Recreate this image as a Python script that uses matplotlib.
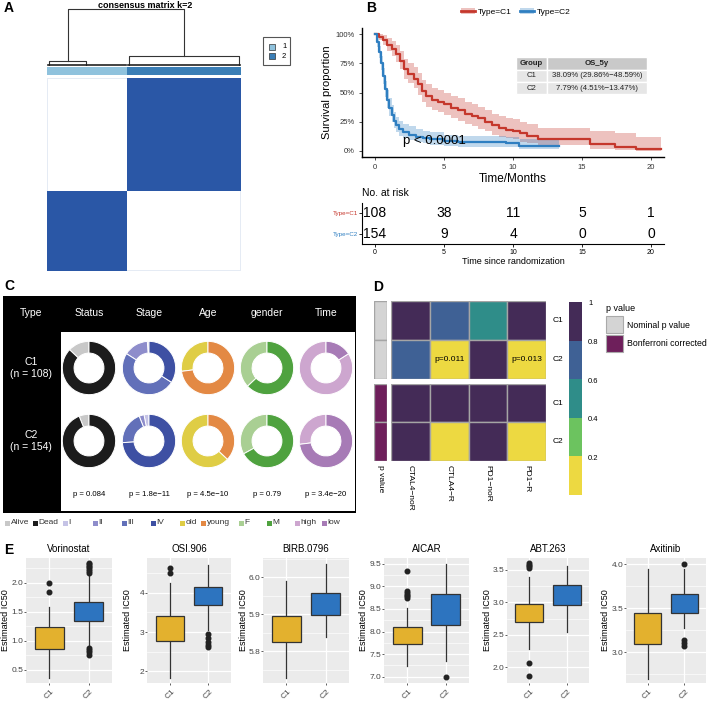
import numpy as np
import matplotlib.pyplot as plt
from matplotlib.patches import Rectangle, Patch
from matplotlib.lines import Line2D
from matplotlib.colors import LinearSegmentedColormap, ListedColormap, BoundaryNorm
from matplotlib.ticker import MultipleLocator

plt.rcParams['font.family'] = ['Liberation Sans', 'DejaVu Sans']

# ---------------- data ----------------
# A: consensus clustering
cluster_sizes = [108, 154]
mixed_consensus = 0.12
dend_heights = [0.95, 0.083, 0.167]          # root, left child, right child
dend_spans = [(3, 53), (111, 259)]            # sample index spans of the two children

# B: Kaplan-Meier (time in months)
c1_time = [0, 0.3, 0.6, 0.9, 1.2, 1.5, 1.8, 2.1, 2.4, 2.8, 3.1, 3.4, 3.7, 4.1, 4.6, 5.0,
           5.5, 6.0, 6.5, 7.0, 7.5, 8.0, 8.5, 9.0, 9.5, 10.0, 10.5, 11.0, 11.8, 15.6, 17.4, 18.9]
c1_surv = [1.0, .98, .95, .91, .87, .83, .77, .70, .66, .62, .57, .51, .47, .44, .42, .40,
           .37, .35, .32, .30, .28, .25, .22, .20, .18, .17, .15, .13, .105, .06, .037, .015]
c1_low = [1.0, .95, .91, .86, .81, .76, .70, .62, .58, .54, .48, .42, .38, .35, .33, .31,
          .28, .26, .23, .21, .19, .17, .14, .12, .11, .10, .08, .07, .05, .02, .008, .001]
c1_up = [1.0, 1.0, .99, .97, .94, .91, .86, .79, .75, .72, .67, .61, .57, .54, .52, .50,
         .47, .45, .42, .40, .38, .35, .32, .30, .28, .27, .25, .23, .20, .17, .15, .12]
c1_end = 20.7
c2_time = [0, 0.15, 0.3, 0.45, 0.6, 0.75, 0.9, 1.05, 1.2, 1.35, 1.5, 1.75, 2.0, 2.5, 3.0,
           3.5, 4.0, 5.0, 6.0, 9.5, 10.4]
c2_surv = [1.0, .93, .85, .75, .64, .53, .44, .37, .31, .26, .22, .19, .16, .14, .12,
           .11, .10, .085, .075, .065, .045]
c2_low = [1.0, .89, .80, .69, .57, .46, .37, .30, .25, .20, .16, .13, .11, .09, .075,
          .065, .055, .045, .038, .03, .015]
c2_up = [1.0, .97, .90, .81, .71, .60, .52, .45, .39, .33, .29, .26, .23, .21, .19,
         .17, .16, .14, .13, .12, .10]
c2_end = 13.3
risk_times = [0, 5, 10, 15, 20]
risk_c1 = [108, 38, 11, 5, 1]
risk_c2 = [154, 9, 4, 0, 0]
os_table = [['Group', 'OS_5y'],
            ['C1', '38.09% (29.86%\u221248.59%)'],
            ['C2', '7.79% (4.51%\u221213.47%)']]

# C: clinical donuts
donut_vars = ['Status', 'Stage', 'Age', 'gender', 'Time']
donut_cats = [['Alive', 'Dead'], ['I', 'II', 'III', 'IV'], ['old', 'young'], ['F', 'M'], ['high', 'low']]
donut_cols = [['#C8C8C8', '#1C1C1C'],
              ['#C5C3E6', '#8E8DCB', '#6270B9', '#3E50A3'],
              ['#DFCD45', '#E38944'],
              ['#A9CF93', '#4FA23F'],
              ['#CDA6CF', '#A77BB6']]
donut_c1 = [[0.13, 0.87], [0.01, 0.15, 0.50, 0.34], [0.27, 0.73], [0.37, 0.63], [0.84, 0.16]]
donut_c2 = [[0.06, 0.94], [0.03, 0.03, 0.20, 0.74], [0.63, 0.37], [0.33, 0.67], [0.27, 0.73]]
donut_p = ['p = 0.084', 'p = 1.8e\u221211', 'p = 4.5e\u221210', 'p = 0.79', 'p = 3.4e\u221220']

# D: immunotherapy p values
d_cols = ['CTAL4\u2212noR', 'CTLA4\u2212R', 'PD1\u2212noR', 'PD1\u2212R']
d_rows = ['C1', 'C2']
p_nominal = [[0.92, 0.72, 0.55, 0.90], [0.70, 0.011, 0.95, 0.013]]
p_bonf = [[1.0, 1.0, 1.0, 1.0], [1.0, 0.088, 1.0, 0.104]]

# E: drug sensitivity boxplots  [whislo, q1, med, q3, whishi]
drugs = ['Vorinostat', 'OSI.906', 'BIRB.0796', 'AICAR', 'ABT.263', 'Axitinib']
c1_box = [[0.35, 0.86, 1.06, 1.24, 1.58],
          [1.83, 2.78, 3.08, 3.40, 4.26],
          [5.728, 5.825, 5.861, 5.896, 5.989],
          [7.24, 7.73, 7.89, 8.11, 8.52],
          [2.28, 2.69, 2.80, 2.97, 3.39],
          [2.70, 3.09, 3.30, 3.44, 3.94]]
c1_out = [[1.84, 2.0], [4.51, 4.64], [], [8.74, 8.78, 8.82, 8.85, 8.89, 9.34],
          [1.86, 2.06, 3.53, 3.55, 3.57, 3.60], []]
c2_box = [[0.87, 1.34, 1.53, 1.67, 2.14],
          [3.06, 3.68, 3.94, 4.15, 4.72],
          [5.838, 5.897, 5.931, 5.958, 6.036],
          [7.34, 8.15, 8.47, 8.84, 9.49],
          [2.55, 2.96, 3.10, 3.27, 3.56],
          [3.27, 3.44, 3.56, 3.66, 3.95]]
c2_out = [[0.76, 0.80, 0.84, 0.87, 2.17, 2.20, 2.24, 2.27, 2.30, 2.32, 2.35],
          [2.62, 2.68, 2.75, 2.85, 2.96], [], [7.0], [], [3.07, 3.10, 3.14, 4.0]]
e_ylims = [(0.27, 2.43), (1.70, 4.89), (5.714, 6.052), (6.86, 9.63), (1.76, 3.68), (2.65, 4.07)]
e_yticks = [[0.5, 1.0, 1.5, 2.0], [2, 3, 4], [5.8, 5.9, 6.0],
            [7.0, 7.5, 8.0, 8.5, 9.0, 9.5], [2.0, 2.5, 3.0, 3.5], [3.0, 3.5, 4.0]]

RED, BLUE = '#C5372C', '#2F7FC1'

# ---------------- figure helpers ----------------
W, H = 708, 702
fig = plt.figure(figsize=(W / 100, H / 100), dpi=100)


def px_axes(x0, y0, x1, y1):
    return fig.add_axes([x0 / W, 1 - y1 / H, (x1 - x0) / W, (y1 - y0) / H])


def px_text(x, y, s, **kw):
    return fig.text(x / W, 1 - y / H, s, **kw)


def px_rect(x0, y0, x1, y1, **kw):
    r = Rectangle((x0 / W, 1 - y1 / H), (x1 - x0) / W, (y1 - y0) / H,
                  transform=fig.transFigure, **kw)
    fig.add_artist(r)
    return r


for lab, (x, y) in zip('ABCDE', [(4, 8), (366, 8), (4, 286), (373, 287), (4, 550)]):
    px_text(x, y, lab, fontsize=10, fontweight='bold', va='center')

# ---------------- A ----------------
n = sum(cluster_sizes)
labels = np.repeat([0, 1], cluster_sizes)
M = (labels[:, None] == labels[None, :]).astype(float)
M[labels == 1, 0] = mixed_consensus
M[0, labels == 1] = mixed_consensus
M[labels == 0, -1] = mixed_consensus
M[-1, labels == 0] = mixed_consensus
axA = px_axes(47, 78, 241, 271)
axA.imshow(M, cmap=LinearSegmentedColormap.from_list('cons', ['white', '#2A57A6']),
           vmin=0, vmax=1, origin='lower', aspect='auto', interpolation='nearest')
axA.axis('off')

axAnn = px_axes(47, 67, 241, 75)
axAnn.imshow(labels[None, :], cmap=ListedColormap(['#8FC2DD', '#3A7EB6']),
             aspect='auto', interpolation='nearest')
axAnn.axis('off')

axDen = px_axes(47, 6, 241, 66)
axDen.set_xlim(0, n)
axDen.set_ylim(0, 1)
axDen.axis('off')
root, hl, hr = dend_heights
(l0, l1), (r0, r1) = dend_spans
lm, rm = (l0 + l1) / 2, (r0 + r1) / 2
kw = dict(color='#333333', lw=0.8)
axDen.plot([lm, lm, rm, rm], [hl, root, root, hr], **kw)
axDen.plot([l0, l0, l1, l1], [0.025, hl, hl, 0.025], **kw)
axDen.plot([r0, r0, r1, r1], [0.025, hr, hr, 0.025], **kw)
axDen.plot([1, cluster_sizes[0] - 1], [0.02, 0.02], color='#222222', lw=1.2)
axDen.plot([cluster_sizes[0] + 1, n - 1], [0.02, 0.02], color='#222222', lw=1.2)
px_text(145, 5, 'consensus matrix k=2', fontsize=6.5, fontweight='bold', ha='center', va='center')

px_rect(263, 37, 290, 65, fill=False, edgecolor='#555555', lw=0.8)
for i, c in enumerate(['#8FC2DD', '#3A7EB6']):
    px_rect(269, 44 + 9 * i, 275, 50 + 9 * i, facecolor=c, edgecolor='#333333', lw=0.5)
    px_text(282, 47 + 9 * i, str(i + 1), fontsize=5.5, va='center')

# ---------------- B ----------------
axB = px_axes(362, 28.5, 664, 156.8)
for t, s, lo, up, end, col in [(c1_time, c1_surv, c1_low, c1_up, c1_end, RED),
                               (c2_time, c2_surv, c2_low, c2_up, c2_end, BLUE)]:
    te = np.append(t, end)
    axB.fill_between(te, np.append(lo, lo[-1]), np.append(up, up[-1]), step='post',
                     color=col, alpha=0.3, lw=0)
    axB.step(te, np.append(s, s[-1]), where='post', color=col, lw=1.6)
axB.set_xlim(-0.94, 20.94)
axB.set_ylim(-0.05, 1.05)
axB.set_xticks([0, 5, 10, 15, 20])
axB.set_yticks([0, 0.25, 0.5, 0.75, 1.0])
axB.set_yticklabels(['0%', '25%', '50%', '75%', '100%'])
axB.tick_params(labelsize=5.5, length=2, width=0.6, colors='#333333')
for sp in ['top', 'right']:
    axB.spines[sp].set_visible(False)
for sp in ['left', 'bottom']:
    axB.spines[sp].set_linewidth(1.0)
axB.set_ylabel('Survival proportion', fontsize=8, labelpad=2)
axB.set_xlabel('Time/Months', fontsize=8.5, labelpad=1)
px_text(403, 141, 'p < 0.0001', fontsize=9.5, va='center')

col_x = [516, 547, 647]
row_y = [57, 69.5, 82, 94]
for r, row in enumerate(os_table):
    for c, cell in enumerate(row):
        px_rect(col_x[c], row_y[r], col_x[c + 1], row_y[r + 1],
                facecolor='#C9C9C9' if r == 0 else '#E6E6E6', edgecolor='white', lw=1)
        px_text((col_x[c] + col_x[c + 1]) / 2, (row_y[r] + row_y[r + 1]) / 2, cell,
                fontsize=5.6, ha='center', va='center',
                fontweight='bold' if r == 0 else 'normal', color='#222222')

handles = [(Patch(facecolor=RED, alpha=0.3), Line2D([], [], color=RED, lw=2)),
           (Patch(facecolor=BLUE, alpha=0.3), Line2D([], [], color=BLUE, lw=2))]
fig.legend(handles, ['Type=C1', 'Type=C2'], loc='center', bbox_to_anchor=(516 / W, 1 - 12 / H),
           ncol=2, frameon=False, fontsize=6, handlelength=1.6, columnspacing=1.0,
           handletextpad=0.4)

px_text(362, 193, 'No. at risk', fontsize=7.5, va='center')
axR = px_axes(362, 203, 664, 244)
axR.set_xlim(-0.94, 20.94)
axR.set_ylim(0.5, 2.5)
for row, counts in [(2, risk_c1), (1, risk_c2)]:
    for t, c in zip(risk_times, counts):
        axR.text(t, row, str(c), ha='center', va='center', fontsize=10)
axR.set_yticks([2, 1])
axR.set_yticklabels(['Type=C1', 'Type=C2'])
for tl, col in zip(axR.get_yticklabels(), [RED, BLUE]):
    tl.set_color(col)
axR.set_xticks(risk_times)
axR.tick_params(axis='y', labelsize=4.5, length=2, width=0.6, pad=1)
axR.tick_params(axis='x', labelsize=5, length=2, width=0.6, pad=1.5)
for sp in ['top', 'right']:
    axR.spines[sp].set_visible(False)
axR.set_xlabel('Time since randomization', fontsize=6.5, labelpad=1)

# ---------------- C ----------------
px_rect(3, 296, 356, 513, facecolor='black', zorder=-10)
px_rect(61, 332, 354.5, 511, facecolor='white', zorder=-9)
c_x = [89, 149, 208, 267, 326]
c_y = [368, 441]
px_text(31, 313, 'Type', color='white', fontsize=7.5, ha='center', va='center')
for x, v in zip(c_x, donut_vars):
    px_text(x, 313, v, color='white', fontsize=7.5, ha='center', va='center')
for y, lab in zip(c_y, ['C1\n(n = 108)', 'C2\n(n = 154)']):
    px_text(31, y, lab, color='white', fontsize=7.5, ha='center', va='center', linespacing=1.3)
for y, fracs in zip(c_y, [donut_c1, donut_c2]):
    for x, f, cols in zip(c_x, fracs, donut_cols):
        ax = px_axes(x - 28, y - 28, x + 28, y + 28)
        ax.pie(f, colors=cols, startangle=90, counterclock=True, radius=1,
               wedgeprops=dict(width=0.44, edgecolor='white', linewidth=0.7))
        ax.set_xlim(-1.05, 1.05)
        ax.set_ylim(-1.05, 1.05)
        ax.set_aspect('equal')
        ax.axis('off')
for x, p in zip(c_x, donut_p):
    px_text(x, 494, p, fontsize=5.6, ha='center', va='center')

leg_x = [5, 33, 63, 93, 122, 151, 180, 201, 239, 267, 295, 322]
leg_labels = [c for cats in donut_cats for c in cats]
leg_colors = [c for cols in donut_cols for c in cols]
for x, lab, col in zip(leg_x, leg_labels, leg_colors):
    px_rect(x, 520.5, x + 5, 525.5, facecolor=col, lw=0)
    px_text(x + 5.5, 523, lab, fontsize=6, va='center', color='#333333')

# ---------------- D ----------------
bounds = [0, 0.2, 0.4, 0.6, 0.8, 1.0]
vcols = ['#EDD941', '#6CC35F', '#2F8D89', '#3F6195', '#442B57']
vcmap = ListedColormap(vcols)
vnorm = BoundaryNorm(bounds, vcmap.N)
grid_col = '#A5A5A5'


def cell_block(ax, vals, texts=False):
    ax.set_xlim(0, len(vals[0]))
    ax.set_ylim(len(vals), 0)
    for i, row in enumerate(vals):
        for j, v in enumerate(row):
            ax.add_patch(Rectangle((j, i), 1, 1, facecolor=vcmap(vnorm(min(v, 0.999))),
                                   edgecolor=grid_col, lw=1))
            if texts and v < 0.05:
                ax.text(j + 0.5, i + 0.5, f'p={v:.3f}', ha='center', va='center', fontsize=6)
    ax.axis('off')


for (y0, y1), vals, ann_col, txt in [((301, 379), p_nominal, '#D4D4D4', True),
                                     ((384, 461), p_bonf, '#6E1F5B', False)]:
    axh = px_axes(391, y0, 546, y1)
    cell_block(axh, vals, texts=txt)
    axa = px_axes(374, y0, 387, y1)
    axa.set_xlim(0, 1)
    axa.set_ylim(2, 0)
    for i in range(2):
        axa.add_patch(Rectangle((0, i), 1, 1, facecolor=ann_col, edgecolor=grid_col, lw=1))
    axa.axis('off')
    for i, r in enumerate(d_rows):
        px_text(553, y0 + (y1 - y0) * (i + 0.5) / 2, r, fontsize=6, va='center')

px_text(380.5, 465, 'p value', fontsize=6, rotation=270, ha='center', va='top')
for j, c in enumerate(d_cols):
    px_text(391 + (546 - 391) * (j + 0.5) / 4, 465, c, fontsize=6, rotation=270,
            ha='center', va='top')

axc = px_axes(569, 302, 582, 495)
axc.set_xlim(0, 1)
axc.set_ylim(0, 1)
for k in range(5):
    axc.add_patch(Rectangle((0, bounds[k]), 1, 0.2, facecolor=vcols[k], lw=0))
axc.axis('off')
for b in bounds[1:]:
    px_text(588, 302 + (1 - b) * 193 + 2, f'{b:g}', fontsize=5.5, va='center')

px_text(606, 308, 'p value', fontsize=6.5, va='center')
for i, (col, lab) in enumerate([('#D4D4D4', 'Nominal p value'), ('#6E1F5B', 'Bonferroni corrected')]):
    px_rect(606, 316 + 18.5 * i, 623, 333 + 18.5 * i, facecolor=col, edgecolor='#AAAAAA', lw=0.8)
    px_text(627, 325 + 18.5 * i, lab, fontsize=6.3, va='center')

# ---------------- E ----------------
e_x = [(26, 112), (147, 231), (263, 349), (384, 469), (507, 589), (626, 706)]
for k, drug in enumerate(drugs):
    x0, x1 = e_x[k]
    ax = px_axes(x0, 558, x1, 683)
    ax.set_facecolor('#EBEBEB')
    stats = []
    for box, out in [(c1_box[k], c1_out[k]), (c2_box[k], c2_out[k])]:
        stats.append(dict(whislo=box[0], q1=box[1], med=box[2], q3=box[3], whishi=box[4],
                          fliers=out))
    bp = ax.bxp(stats, positions=[1, 2], widths=0.75, patch_artist=True, showcaps=False,
                boxprops=dict(edgecolor='#333333', linewidth=0.9),
                whiskerprops=dict(color='#333333', linewidth=0.9),
                medianprops=dict(color='#222222', linewidth=1.8),
                flierprops=dict(marker='o', markerfacecolor='#222222', markeredgecolor='#222222',
                                markersize=3.3))
    for patch, col in zip(bp['boxes'], ['#E3B12E', '#2D74BF']):
        patch.set_facecolor(col)
        patch.set_zorder(3)
    ax.set_xlim(0.4, 2.6)
    ax.set_ylim(*e_ylims[k])
    ax.set_yticks(e_yticks[k])
    step = e_yticks[k][1] - e_yticks[k][0]
    ax.yaxis.set_minor_locator(MultipleLocator(step / 2))
    ax.set_xticks([1, 2])
    ax.set_xticklabels(['C1', 'C2'], rotation=45, ha='center')
    ax.grid(True, which='major', color='white', lw=0.9)
    ax.grid(True, which='minor', axis='y', color='white', lw=0.45)
    ax.set_axisbelow(True)
    for sp in ax.spines.values():
        sp.set_visible(False)
    ax.tick_params(which='major', labelsize=6, length=1.5, width=0.6, colors='#444444', pad=0.6)
    ax.tick_params(axis='x', labelsize=6, pad=2)
    ax.tick_params(which='minor', length=0)
    ax.set_ylabel('Estimated IC50', fontsize=6.5)
    ax.yaxis.set_label_coords(-15.5 / (x1 - x0), 0.5)
    ax.set_title(drug, fontsize=7, pad=4)

fig.savefig('out.png', dpi=100)
